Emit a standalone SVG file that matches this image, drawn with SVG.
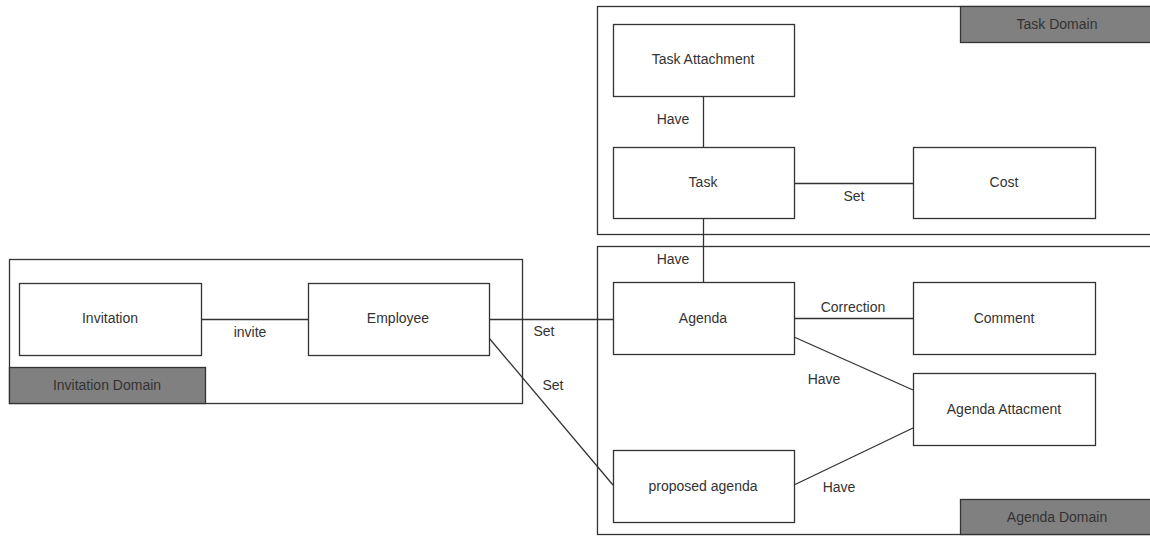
<svg xmlns="http://www.w3.org/2000/svg" width="1150" height="536" viewBox="0 0 1150 536">
<style>
.box{fill:#fff;stroke:#333;stroke-width:1.3}
.dom{fill:none;stroke:#333;stroke-width:1.3}
.lab{fill:#808080;stroke:#333;stroke-width:1.3}
.t{font-family:"Liberation Sans",Arial,sans-serif;font-size:14px;fill:#333;text-anchor:middle;dominant-baseline:central}
.c{stroke:#333;stroke-width:1.3;fill:none}
</style>
<rect width="1150" height="536" fill="#fff"/>
<g id="task-domain">
<rect class="dom" x="597.5" y="6.5" width="560" height="228"/>
<rect class="lab" x="960.5" y="6.5" width="200" height="36"/>
<text class="t" x="1057" y="24">Task Domain</text>
</g>
<g id="agenda-domain">
<rect class="dom" x="597.5" y="246.5" width="560" height="288"/>
<rect class="lab" x="960.5" y="499.5" width="200" height="35"/>
<text class="t" x="1057" y="517">Agenda Domain</text>
</g>
<g id="invitation-domain">
<rect class="dom" x="9.5" y="259.5" width="513" height="144"/>
<rect class="lab" x="9.5" y="367.5" width="196" height="36"/>
<text class="t" x="107" y="385">Invitation Domain</text>
</g>
<g id="connectors">
<line class="c" x1="703.5" y1="96" x2="703.5" y2="147"/>
<line class="c" x1="794" y1="183.5" x2="913" y2="183.5"/>
<line class="c" x1="703.5" y1="218" x2="703.5" y2="282"/>
<line class="c" x1="794" y1="318.5" x2="913" y2="318.5"/>
<line class="c" x1="794" y1="337" x2="913" y2="390"/>
<line class="c" x1="794" y1="485" x2="913" y2="428"/>
<line class="c" x1="201" y1="319.5" x2="308" y2="319.5"/>
<line class="c" x1="489" y1="319.5" x2="613" y2="319.5"/>
<line class="c" x1="489" y1="338" x2="613" y2="485"/>
<text class="t" x="673" y="119">Have</text>
<text class="t" x="854" y="196">Set</text>
<text class="t" x="673" y="259">Have</text>
<text class="t" x="853" y="307">Correction</text>
<text class="t" x="824" y="379">Have</text>
<text class="t" x="839" y="487">Have</text>
<text class="t" x="250" y="332">invite</text>
<text class="t" x="544" y="331">Set</text>
<text class="t" x="553" y="385">Set</text>
</g>
<g id="task-attachment"><rect class="box" x="613.5" y="24.5" width="181" height="72"/><text class="t" x="703" y="59">Task Attachment</text></g>
<g id="task"><rect class="box" x="613.5" y="147.5" width="181" height="71"/><text class="t" x="703" y="182">Task</text></g>
<g id="cost"><rect class="box" x="913.5" y="147.5" width="182" height="71"/><text class="t" x="1004" y="182">Cost</text></g>
<g id="agenda"><rect class="box" x="613.5" y="282.5" width="181" height="72"/><text class="t" x="703" y="318">Agenda</text></g>
<g id="comment"><rect class="box" x="913.5" y="282.5" width="182" height="72"/><text class="t" x="1004" y="318">Comment</text></g>
<g id="agenda-attacment"><rect class="box" x="913.5" y="373.5" width="182" height="72"/><text class="t" x="1004" y="409">Agenda Attacment</text></g>
<g id="proposed-agenda"><rect class="box" x="613.5" y="450.5" width="181" height="72"/><text class="t" x="703" y="486">proposed agenda</text></g>
<g id="invitation"><rect class="box" x="19.5" y="283.5" width="182" height="72"/><text class="t" x="110" y="318">Invitation</text></g>
<g id="employee"><rect class="box" x="308.5" y="283.5" width="181" height="72"/><text class="t" x="398" y="318">Employee</text></g>
</svg>
